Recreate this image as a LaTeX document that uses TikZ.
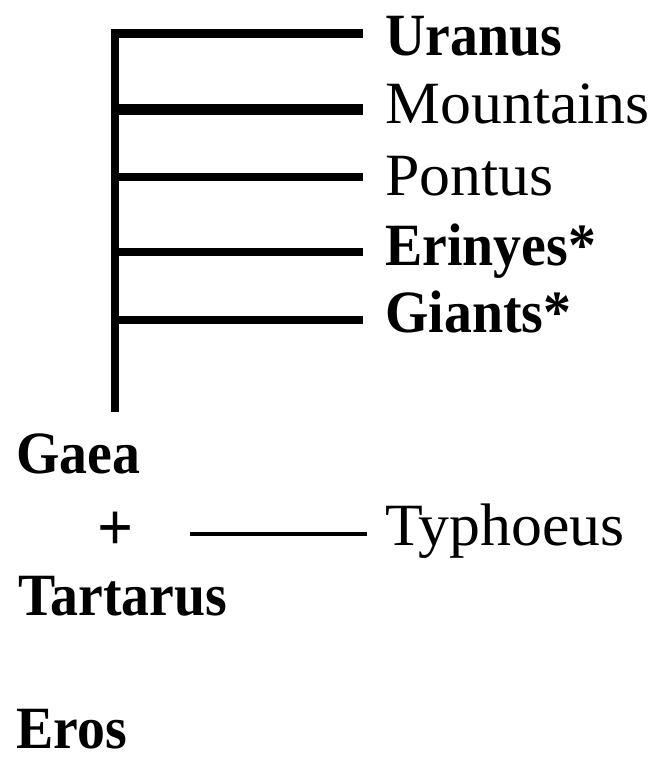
\documentclass[tikz,border=0pt]{standalone}
\usepackage{fontspec}
\setmainfont{Liberation Serif}[UprightFeatures={FakeStretch=1.03}, BoldFeatures={FakeStretch=0.93}]
\usepackage{tikz}
\usetikzlibrary{positioning, calc}

\tikzset{
    branch/.style={line width=4.2pt, line join=miter},
    offspring/.style={line width=2.2pt},
    godname/.style={anchor=base west, inner sep=0, font=\fontsize{30}{36}\selectfont}
}

\def\raster{0.5pt}

\begin{document}
\begin{tikzpicture}[x=\raster, y=-\raster]
    \useasboundingbox (0,0) rectangle (656,760);

    \coordinate (top) at (115,33.5);
    \coordinate (bottom) at (115,412);

    % children of Gaea
    \foreach \n/\txt/\base in {
        uranus/\textbf{Uranus}/55,
        mountains/Mountains/123,
        pontus/Pontus/195,
        erinyes/\textbf{Erinyes*}/265,
        giants/\textbf{Giants*}/332}
    {
        \node[godname] (\n) at (385,\base) {\txt};
    }

    % trunk and branches
    \draw[branch] (bottom) -- (top) -- ([xshift=-11pt]uranus.west |- top);
    \foreach \n/\y/\w in {
        mountains/109.5/5.5pt,
        pontus/177/4pt,
        erinyes/252/4.2pt,
        giants/320/4.3pt}
    {
        \coordinate (b\n) at (115,\y);
        \draw[branch, line width=\w] (b\n) -- ([xshift=-11pt]\n.west |- b\n);
    }

    % parents
    \node[godname] (gaea) at (16,473) {\textbf{Gaea}};
    \node[godname] (tartarus) at (18,615) {\textbf{Tartarus}};
    \node[godname] (eros) at (16,748) {\textbf{Eros}};
    \node[inner sep=0, font=\fontsize{34}{40}\selectfont\bfseries] (plus) at (116,531) {+};

    \node[godname] (typhoeus) at (385,545) {Typhoeus};
    \draw[offspring] ([xshift=28pt,yshift=-1.5pt]plus.east) coordinate (k)
        -- ([xshift=-9pt]typhoeus.west |- k);
\end{tikzpicture}
\end{document}
